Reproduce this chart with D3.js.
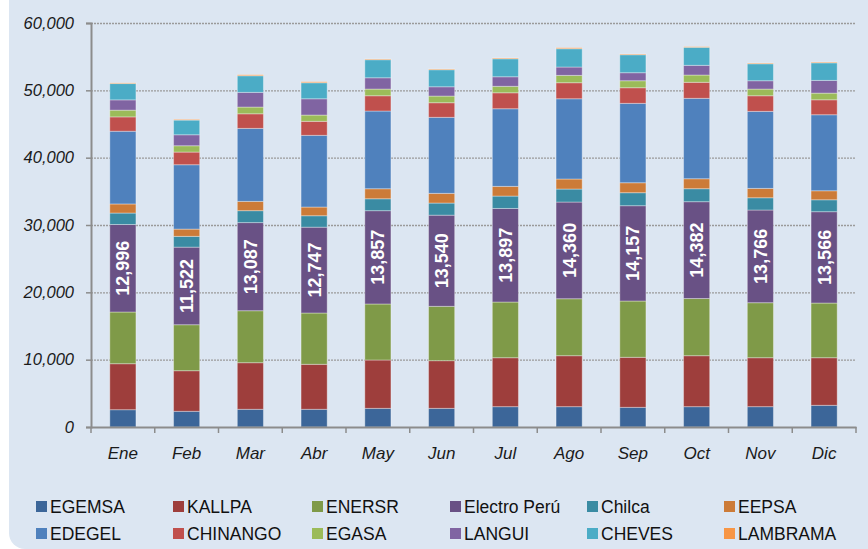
<!DOCTYPE html>
<html>
<head>
<meta charset="utf-8">
<script src="https://cdn.jsdelivr.net/npm/d3@7"></script>
<style>
  body { margin: 0; background: #fff; }
  svg { display: block; }
</style>
</head>
<body>
<div id="chart"></div>
<script>
// data
var months = ["Ene", "Feb", "Mar", "Abr", "May", "Jun", "Jul", "Ago", "Sep", "Oct", "Nov", "Dic"];
var companies = ["EGEMSA", "KALLPA", "ENERSR", "Electro Perú", "Chilca", "EEPSA",
                 "EDEGEL", "CHINANGO", "EGASA", "LANGUI", "CHEVES", "LAMBRAMA"];
var colors = ["#3c6699", "#9e3e3c", "#7f9a48", "#695185", "#3a8ba3", "#cc7b38",
              "#4f81bd", "#c0504d", "#9bbb59", "#8064a2", "#4bacc6", "#f79646"];

var egemsa   = [2570, 2330, 2630, 2630, 2770, 2770, 3020, 3020, 2920, 3020, 3020, 3220];
var kallpa   = [6830, 6030, 6920, 6680, 7180, 7080, 7270, 7570, 7430, 7570, 7270, 7070];
var enersr   = [7680, 6830, 7720, 7620, 8320, 8070, 8270, 8460, 8360, 8490, 8170, 8120];
var electro  = [12996, 11522, 13087, 12747, 13857, 13540, 13897, 14360, 14157, 14382, 13766, 13566];
var chilca   = [1700, 1600, 1770, 1700, 1770, 1800, 1840, 1930, 1930, 1930, 1820, 1770];
var eepsa    = [1350, 1080, 1380, 1290, 1490, 1440, 1440, 1490, 1480, 1480, 1390, 1340];
var edegel   = [10800, 9560, 10840, 10650, 11540, 11290, 11530, 11920, 11790, 11940, 11440, 11290];
var chinango = [2130, 1880, 2170, 2080, 2270, 2170, 2370, 2380, 2320, 2380, 2320, 2220];
var egasa    = [1000, 940, 1000, 930, 990, 990, 960, 1090, 1040, 1080, 990, 990];
var langui   = [1530, 1630, 2180, 2420, 1680, 1380, 1420, 1240, 1190, 1440, 1240, 1890];
var cheves   = [2420, 2180, 2470, 2380, 2680, 2530, 2670, 2720, 2670, 2680, 2520, 2610];
var lambrama = [100, 100, 150, 150, 100, 100, 110, 150, 100, 90, 100, 100];

var series = [egemsa, kallpa, enersr, electro, chilca, eepsa,
              edegel, chinango, egasa, langui, cheves, lambrama];
var yTicks = [0, 10000, 20000, 30000, 40000, 50000, 60000];

// build rows for the stack
var rows = months.map(function(m, i) {
  var r = { month: m };
  companies.forEach(function(c, j) { r[c] = series[j][i]; });
  return r;
});

var W = 868, H = 549;
var margin = {top: 23, right: 12, bottom: 122, left: 91};
var width = 856 - margin.left,
    height = 427 - margin.top;

var svg = d3.select("#chart").append("svg")
  .attr("width", W)
  .attr("height", H);

// panel background
svg.append("rect")
  .attr("x", 9).attr("y", -16)
  .attr("width", W - 9 + 16).attr("height", H + 16)
  .attr("rx", 16).attr("ry", 16)
  .attr("fill", "#dce6f2");

var g = svg.append("g")
  .attr("transform", "translate(" + margin.left + "," + margin.top + ")");

var x = d3.scaleBand()
  .domain(months)
  .range([0, width])
  .paddingInner(0.59)
  .paddingOuter(0.295);

var y = d3.scaleLinear()
  .domain([0, 60000])
  .range([height, 0]);

// gridlines
g.selectAll("line.grid")
  .data(yTicks.slice(1))
  .enter().append("line")
    .attr("class", "grid")
    .attr("x1", 0).attr("x2", width)
    .attr("y1", function(d) { return y(d) + 0.5; })
    .attr("y2", function(d) { return y(d) + 0.5; })
    .attr("stroke", "#9a9a9a")
    .attr("stroke-width", 1.3)
    .attr("stroke-dasharray", "2,1");

// stacked bars
var stack = d3.stack().keys(companies);
var layers = stack(rows);

var layer = g.selectAll("g.layer")
  .data(layers)
  .enter().append("g")
    .attr("class", "layer")
    .attr("fill", function(d, i) { return colors[i]; });

layer.selectAll("rect")
  .data(function(d) { return d; })
  .enter().append("rect")
    .attr("x", function(d) { return x(d.data.month); })
    .attr("y", function(d) { return y(d[1]); })
    .attr("width", x.bandwidth())
    .attr("height", function(d) { return y(d[0]) - y(d[1]); })
    .attr("stroke", "rgba(255,255,255,0.35)")
    .attr("stroke-width", 1);

// Electro Perú labels
var epLayer = layers[3];
g.selectAll("text.ep")
  .data(epLayer)
  .enter().append("text")
    .attr("class", "ep")
    .attr("transform", function(d) {
      var cx = x(d.data.month) + x.bandwidth() / 2;
      var cy = (y(d[0]) + y(d[1])) / 2;
      return "translate(" + cx + "," + cy + ")rotate(-90)";
    })
    .attr("text-anchor", "middle")
    .attr("dy", "0.36em")
    .attr("fill", "#fff")
    .attr("font-family", "Liberation Sans, Arial, sans-serif")
    .attr("font-weight", "bold")
    .attr("font-size", 18)
    .text(function(d) { return d3.format(",")(d.data["Electro Perú"]); });

// Y axis
var yAxis = g.append("g")
  .call(d3.axisLeft(y).tickValues(yTicks).tickFormat(d3.format(",")).tickSize(5).tickPadding(12));
yAxis.select(".domain").attr("stroke", "#8c8c8c").attr("stroke-width", 2);
yAxis.selectAll(".tick line").attr("stroke", "#8c8c8c").attr("stroke-width", 1.5);
yAxis.selectAll("text")
  .attr("font-family", "Liberation Sans, Arial, sans-serif")
  .attr("font-style", "italic")
  .attr("font-size", 16.5)
  .attr("fill", "#1a1a1a");

// X axis
var xAxis = g.append("g")
  .attr("transform", "translate(0," + height + ")")
  .call(d3.axisBottom(x).tickSize(0).tickPadding(20));
xAxis.select(".domain").attr("stroke", "#8c8c8c").attr("stroke-width", 2);
xAxis.selectAll("text")
  .attr("font-family", "Liberation Sans, Arial, sans-serif")
  .attr("font-style", "italic")
  .attr("font-size", 17)
  .attr("fill", "#1a1a1a");

// tick marks between categories
g.selectAll("line.xtick")
  .data(d3.range(months.length + 1))
  .enter().append("line")
    .attr("class", "xtick")
    .attr("x1", function(i) { return i * (width / months.length); })
    .attr("x2", function(i) { return i * (width / months.length); })
    .attr("y1", height)
    .attr("y2", height + 6)
    .attr("stroke", "#8c8c8c")
    .attr("stroke-width", 1.5);

// legend
var legend = svg.append("g");
var colX = [36, 173, 312, 450, 587, 724];
var item = legend.selectAll("g.item")
  .data(companies)
  .enter().append("g")
    .attr("class", "item")
    .attr("transform", function(d, i) {
      var col = i % 6, row = Math.floor(i / 6);
      return "translate(" + colX[col] + "," + (501 + row * 27) + ")";
    });
item.append("rect")
  .attr("width", 11).attr("height", 11)
  .attr("fill", function(d, i) { return colors[i]; });
item.append("text")
  .attr("x", 14).attr("y", 6)
  .attr("dy", "0.36em")
  .attr("font-family", "Liberation Sans, Arial, sans-serif")
  .attr("font-size", 17.5)
  .attr("fill", "#111")
  .text(function(d) { return d; });
</script>
</body>
</html>
